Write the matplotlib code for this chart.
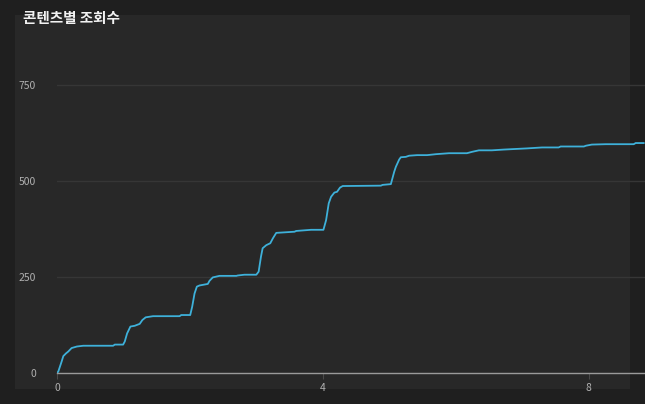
import matplotlib
matplotlib.use("Agg")
import matplotlib.pyplot as plt
from matplotlib.patches import Rectangle

plt.rcParams['font.family'] = ['Noto Sans CJK KR', 'DejaVu Sans']

title = "콘텐츠별 조회수"
x_vals = [0, 0.02, 0.045, 0.07, 0.095, 0.135, 0.17, 0.22, 0.30, 0.395, 0.845, 0.87, 0.995,
          1.02, 1.055, 1.105, 1.17, 1.245, 1.285, 1.335, 1.445, 1.845, 1.87, 2.005,
          2.035, 2.07, 2.105, 2.145, 2.27, 2.295, 2.345, 2.445, 2.70, 2.72, 2.82, 3.0,
          3.035, 3.07, 3.095, 3.15, 3.21, 3.25, 3.30, 3.575, 3.60, 3.825, 4.01,
          4.05, 4.09, 4.125, 4.175, 4.215, 4.26, 4.30, 4.875, 4.90, 5.025,
          5.075, 5.10, 5.15, 5.175, 5.25, 5.30, 5.42, 5.57, 5.705, 5.90, 6.17, 6.245,
          6.35, 6.545, 6.725, 7.07, 7.30, 7.55, 7.58, 7.93, 7.96, 8.05, 8.26, 8.68,
          8.71, 8.83]
y_vals = [0, 4, 17, 30, 44, 51, 56, 65, 69, 71, 71, 74, 74,
          82, 103, 121, 123, 128, 138, 145, 148, 148, 151, 151,
          173, 207, 225, 228, 232, 240, 249, 253, 253, 254, 256, 256,
          264, 303, 325, 333, 338, 351, 365, 368, 370, 373, 373,
          398, 442, 459, 470, 472, 483, 487, 488, 490, 492,
          524, 537, 556, 562, 563, 566, 567.5, 567.5, 570, 572.5, 572.5, 576,
          580, 580, 582, 585, 587.5, 587.5, 590, 590, 592, 595, 596, 596,
          599, 599]
x_ticks = [0, 4, 8]
y_ticks = [0, 250, 500, 750]

W, H = 645, 404
fig = plt.figure(figsize=(W / 100, H / 100), dpi=100)
fig.patch.set_facecolor('#1f1f1f')
fig.patches.append(Rectangle((15 / W, 1 - 389 / H), (630 - 15) / W, (389 - 15) / H,
                             transform=fig.transFigure, facecolor='#282828',
                             edgecolor='none', zorder=-5))

ax = fig.add_axes([57 / W, 1 - 373 / H, 1 - 57 / W, (373 - 39) / H])
ax.set_zorder(2)
ax.set_facecolor('none')
ax.plot(x_vals, y_vals, color='#3eb1da', linewidth=1.3, zorder=3)
ax.set_xlim(0, 8.85)
ax.set_ylim(0, 870)
ax.set_xticks(x_ticks)
ax.set_yticks(y_ticks)
for s in ['top', 'right', 'left']:
    ax.spines[s].set_visible(False)
ax.spines['bottom'].set_color('#9a9a9a')
ax.spines['bottom'].set_linewidth(1.0)
ax.spines['bottom'].set_zorder(4)
ax.grid(axis='y', color='#363636', linewidth=1)
ax.set_axisbelow(True)
ax.tick_params(axis='y', length=0, pad=15, labelsize=7.5, labelcolor='#b0b0b0')
ax.tick_params(axis='x', length=4.5, width=0.8, color='#4a4a4a', pad=3,
               labelsize=7.5, labelcolor='#b0b0b0')

t = fig.text(23 / W, 1 - 18 / H, title, color='#f2f2f2', fontsize=10.5,
             fontweight='bold', va='center', ha='left')
t.set_zorder(3)

fig.savefig('out.png', dpi=100, facecolor=fig.get_facecolor())
